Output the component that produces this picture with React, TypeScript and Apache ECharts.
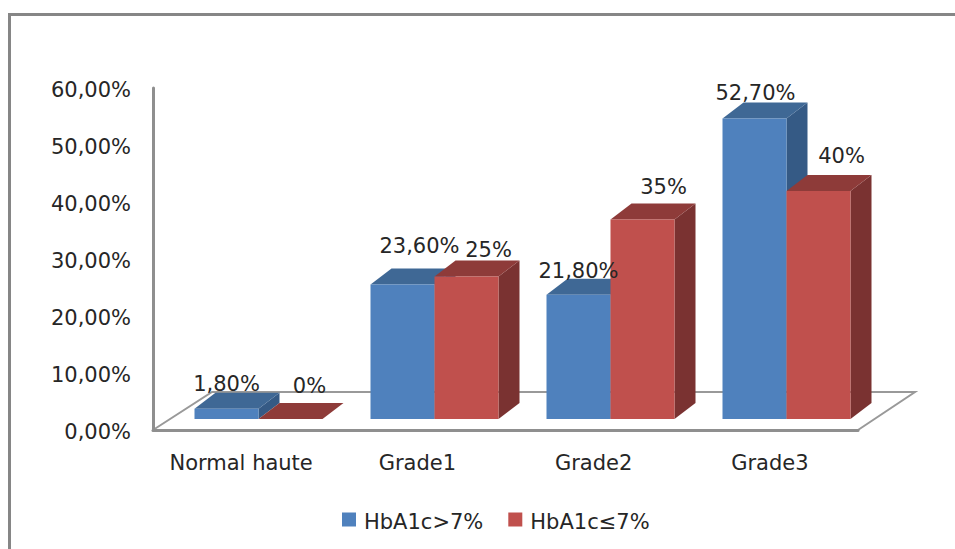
import React, { useEffect, useRef } from "react";
import * as echarts from "echarts";

const categories = ["Normal haute", "Grade1", "Grade2", "Grade3"];
const seriesNames = ["HbA1c>7%", "HbA1c≤7%"];
const highValues = [1.8, 23.6, 21.8, 52.7];
const lowValues = [0, 25, 35, 40];
const highLabels = ["1,80%", "23,60%", "21,80%", "52,70%"];
const lowLabels = ["0%", "25%", "35%", "40%"];
const yTickLabels = ["0,00%", "10,00%", "20,00%", "30,00%", "40,00%", "50,00%", "60,00%"];

const FONT = "'DejaVu Sans'";
const FS = 21;
const TEXT = "#262626";
// manual label offsets from the bar's front top centre, as placed in the reference
const highOff = [[0, -25], [17, -38], [0, -24], [1, -26]];
const lowOff = [[19, -33], [22, -27], [21, -33], [23, -35]];

const DX = 21;
const DY = 16;
const BAR_W = 64;

function barRender(side: number, labels: string[], offs: number[][], front: string, top: string, right: string) {
  return (params: any, api: any) => {
    const i = api.value(0);
    const p = api.coord([i, api.value(1)]);
    const base = api.coord([i, 0]);
    const x0 = side < 0 ? p[0] - BAR_W - 0.5 : p[0] - 0.5;
    const x1 = x0 + BAR_W;
    const yT = p[1];
    const yB = base[1];
    const poly = (pts: number[][], fill: string) => ({
      type: "polygon",
      shape: { points: pts },
      style: { fill },
    });
    const children: any[] = [
      poly([[x1, yT], [x1 + DX, yT - DY], [x1 + DX, yB - DY], [x1, yB]], right),
      poly([[x0, yT], [x0 + DX, yT - DY], [x1 + DX, yT - DY], [x1, yT]], top),
    ];
    if (yB - yT > 0.5) {
      children.push({ type: "rect", shape: { x: x0, y: yT, width: BAR_W, height: yB - yT }, style: { fill: front } });
    }
    children.push({
      type: "text",
      z2: 100,
      style: {
        x: (x0 + x1) / 2 + offs[params.dataIndex][0],
        y: yT + offs[params.dataIndex][1],
        text: labels[params.dataIndex],
        fill: TEXT,
        font: `${FS}px ${FONT}`,
        align: "center",
        verticalAlign: "middle",
      },
    });
    return { type: "group", children };
  };
}

export default function App() {
  const ref = useRef<HTMLDivElement>(null);
  useEffect(() => {
    const chart = echarts.init(ref.current!, undefined, { renderer: "svg" });
    const axisLine = { show: true, lineStyle: { color: "#8f8f8f", width: 3 } };
    const shifted = { color: TEXT, fontSize: FS, fontFamily: FONT, padding: [4, 0, 0, 0] };
    chart.setOption({
      animation: false,
      backgroundColor: "#ffffff",
      textStyle: { fontFamily: FONT },
      grid: [
        { left: 153, top: 88, width: 705, height: 342 },
        { left: 171, top: 77, width: 704, height: 342 },
      ],
      xAxis: [
        {
          gridIndex: 0,
          type: "category",
          data: categories,
          axisLine,
          axisTick: { show: false },
          axisLabel: { color: TEXT, fontSize: FS, fontFamily: FONT, margin: 22, interval: 0 },
        },
        { gridIndex: 1, type: "category", data: categories, show: false },
      ],
      yAxis: [
        {
          gridIndex: 0,
          type: "value",
          min: 0,
          max: 60,
          interval: 10,
          axisLine,
          axisTick: { show: false },
          splitLine: { show: false },
          axisLabel: {
            color: TEXT,
            fontSize: FS,
            fontFamily: FONT,
            margin: 22,
            formatter: (v: number) => `{a|${yTickLabels[Math.round(v / 10)]}}`,
            rich: { a: shifted },
          },
        },
        { gridIndex: 1, type: "value", min: 0, max: 60, interval: 10, show: false },
      ],
      legend: {
        left: 342,
        top: 511,
        padding: 0,
        itemWidth: 14,
        itemHeight: 14,
        itemGap: 25,
        icon: "rect",
        formatter: (n: string) => `{a|${n}}`,
        textStyle: { color: TEXT, fontSize: FS, fontFamily: FONT, rich: { a: { ...shifted, padding: [4, 0, 0, 3] } } },
        data: seriesNames,
      },
      graphic: [
        {
          type: "rect",
          z: 0,
          silent: true,
          shape: { x: 9.5, y: 14.5, width: 1000, height: 600 },
          style: { fill: "none", stroke: "#868686", lineWidth: 3 },
        },
        {
          type: "polyline",
          z: 0,
          silent: true,
          shape: { points: [[153, 430], [212, 392], [915, 392], [858, 430]] },
          style: { fill: "none", stroke: "#999999", lineWidth: 2 },
        },
      ],
      series: [
        {
          name: seriesNames[0],
          type: "custom",
          xAxisIndex: 1,
          yAxisIndex: 1,
          itemStyle: { color: "#4F81BD" },
          encode: { x: 0, y: 1 },
          data: highValues.map((v, i) => [i, v]),
          renderItem: barRender(-1, highLabels, highOff, "#4F81BD", "#3F6895", "#355A85"),
        },
        {
          name: seriesNames[1],
          type: "custom",
          xAxisIndex: 1,
          yAxisIndex: 1,
          itemStyle: { color: "#C0504D" },
          encode: { x: 0, y: 1 },
          data: lowValues.map((v, i) => [i, v]),
          renderItem: barRender(1, lowLabels, lowOff, "#C0504D", "#8E3B39", "#7A3231"),
        },
      ],
    });
    return () => chart.dispose();
  }, []);
  return <div ref={ref} style={{ position: "fixed", left: 0, top: 0, width: 955, height: 549 }} />;
}
